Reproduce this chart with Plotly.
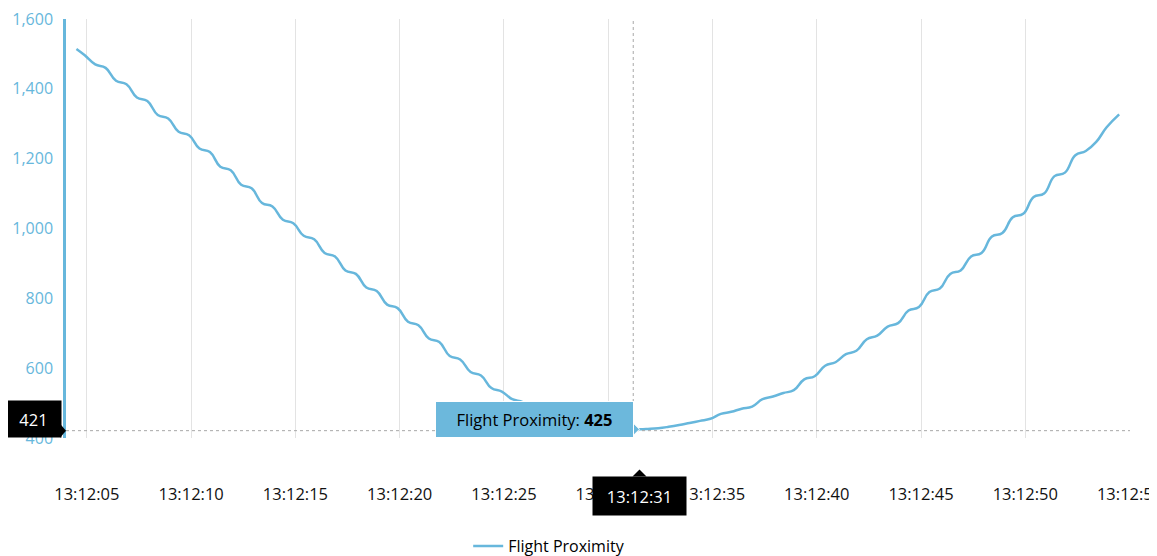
import plotly.graph_objects as go
import pandas as pd

# ---------------- data ----------------
base_time = "2024-01-01 13:12:00"
series_name = "Flight Proximity"

seconds = [4.5, 4.9, 5.4, 5.9, 6.4, 6.9, 7.4, 7.9, 8.4, 8.9, 9.4, 9.9,
           10.4, 10.9, 11.4, 11.9, 12.4, 12.9, 13.4, 13.9, 14.4, 14.9,
           15.4, 15.9, 16.4, 16.9, 17.4, 17.9, 18.4, 18.9, 19.4, 19.9,
           20.4, 20.9, 21.4, 21.9, 22.4, 22.9, 23.4, 23.9, 24.4, 24.9,
           25.4, 25.9, 26.4, 26.9, 27.4, 27.9, 28.4, 28.9, 29.4, 29.9,
           30.4, 30.9, 31.5, 31.9, 32.4, 32.9, 33.4, 33.9, 34.4, 34.9,
           35.4, 35.9, 36.4, 36.9, 37.4, 37.9, 38.4, 38.9, 39.4, 39.9,
           40.4, 40.9, 41.4, 41.9, 42.4, 42.9, 43.4, 43.9, 44.4, 44.9,
           45.4, 45.9, 46.4, 46.9, 47.4, 47.9, 48.4, 48.9, 49.4, 49.9,
           50.4, 50.9, 51.4, 51.9, 52.4, 52.9, 53.4, 53.9, 54.5]

proximity = [1514, 1496, 1470, 1460, 1423, 1413, 1375, 1365, 1325, 1315, 1277, 1267,
             1229, 1219, 1177, 1167, 1125, 1115, 1073, 1063, 1025, 1015,
             979, 969, 930, 920, 880, 870, 831, 821, 782, 772,
             733, 723, 685, 675, 635, 625, 589, 579, 543, 533,
             511, 503, 486, 480, 465, 459, 447, 443, 435, 431,
             427, 425, 425, 426, 428, 432, 437, 443, 449, 455,
             469, 475, 484, 490, 511, 519, 529, 537, 568, 577,
             607, 617, 640, 650, 683, 693, 719, 729, 765, 775,
             818, 828, 870, 880, 920, 930, 977, 987, 1032, 1042,
             1090, 1100, 1150, 1160, 1210, 1222, 1248, 1290, 1327]

x_range_seconds = [4.0, 55.02]
x_tick_start_seconds = 5
x_tick_step_seconds = 5
y_range = [400, 1600]
y_tick_step = 200

cursor_seconds = 31.2      # mouse position of the chart cursor
cursor_value = 421         # value shown on the y-axis cursor label
hover_seconds = 31.5       # data point under the cursor

# ---------------- styles ----------------
LINE_COLOR = "#67b7dc"
TOOLTIP_COLOR = "#6cb8dc"
GRID_COLOR = "#e3e3e3"
FONT = "Segoe UI, Open Sans, sans-serif"

t0 = pd.Timestamp(base_time)
def ts(s):
    return t0 + pd.Timedelta(seconds=s)

times = [ts(s) for s in seconds]
hover_i = seconds.index(hover_seconds)
hover_time = times[hover_i]
hover_value = proximity[hover_i]
cursor_time = ts(cursor_seconds)

fig = go.Figure()
fig.add_trace(go.Scatter(
    x=times, y=proximity, mode="lines", name=series_name,
    line=dict(color=LINE_COLOR, width=2.5, shape="spline", smoothing=1.3),
    hoverinfo="skip",
))

shapes = []
# cursor dashed lines
shapes.append(dict(type="line", xref="x", yref="paper", x0=cursor_time, x1=cursor_time,
                   y0=0, y1=1, line=dict(color="#a8a8a8", width=1, dash="3px,3px"), layer="above"))
shapes.append(dict(type="line", xref="paper", yref="y", x0=0, x1=1, y0=cursor_value, y1=cursor_value,
                   line=dict(color="#a8a8a8", width=1, dash="3px,3px"), layer="above"))
# tooltip pointer
shapes.append(dict(type="path", xref="x", yref="y", xsizemode="pixel", ysizemode="pixel",
                   xanchor=hover_time, yanchor=hover_value,
                   path="M -7,7 L 0,0 L -7,-7 Z", fillcolor=TOOLTIP_COLOR,
                   line=dict(color="white", width=1), layer="above"))
# y cursor label pointer
shapes.append(dict(type="path", xref="paper", yref="y", xsizemode="pixel", ysizemode="pixel",
                   xanchor=0, yanchor=cursor_value,
                   path="M -6,7 L 0,0 L -6,-7 Z", fillcolor="black",
                   line=dict(color="black", width=0), layer="above"))
# x cursor label pointer
shapes.append(dict(type="path", xref="x", yref="paper", xsizemode="pixel", ysizemode="pixel",
                   xanchor=hover_time, yanchor=0,
                   path="M -7,-38.5 L 0,-31.5 L 7,-38.5 Z", fillcolor="black",
                   line=dict(color="black", width=0), layer="above"))

annotations = []
# tooltip box
annotations.append(dict(
    x=hover_time, y=hover_value, xref="x", yref="y",
    xanchor="right", yanchor="bottom", xshift=-6, yshift=-9,
    text=f"{series_name}: <b>{hover_value}</b>", showarrow=False,
    bgcolor=TOOLTIP_COLOR, bordercolor="white", borderwidth=1, borderpad=0,
    width=197, height=35, align="center",
    font=dict(family=FONT, size=16.5, color="#000000"),
))
# y cursor label
annotations.append(dict(
    x=0, y=cursor_value, xref="paper", yref="y",
    xanchor="right", yanchor="bottom", xshift=-4, yshift=-7,
    text=f"{cursor_value}", showarrow=False,
    bgcolor="black", borderpad=0, width=55, height=36,
    font=dict(family=FONT, size=16.5, color="white"),
))
# x cursor label
annotations.append(dict(
    x=hover_time, y=0, xref="x", yref="paper",
    xanchor="center", yanchor="top", yshift=-38,
    text=hover_time.strftime("%H:%M:%S"), showarrow=False,
    bgcolor="black", borderpad=0, width=93, height=38,
    font=dict(family=FONT, size=16.5, color="white"),
))

# page body has an 8px margin, so the figure is laid out 8px in from the window edge
fig.update_layout(
    width=1149, height=548,
    margin=dict(l=58, r=27, t=11, b=118, autoexpand=False),
    plot_bgcolor="white", paper_bgcolor="white",
    font=dict(family=FONT),
    hovermode=False,
    showlegend=True,
    legend=dict(orientation="h", x=0.378, xanchor="left", y=-0.258, yanchor="middle",
                font=dict(family=FONT, size=16, color="#000000"),
                bgcolor="rgba(0,0,0,0)"),
    shapes=shapes,
    annotations=annotations,
    xaxis=dict(
        type="date", automargin=False, ticklabeloverflow="allow",
        range=[ts(x_range_seconds[0]), ts(x_range_seconds[1])],
        tick0=ts(x_tick_start_seconds), dtick=x_tick_step_seconds * 1000,
        tickformat="%H:%M:%S",
        showgrid=True, gridcolor=GRID_COLOR, gridwidth=1,
        showline=False, zeroline=False, ticks="",
        ticklabelstandoff=44,
        tickfont=dict(family=FONT, size=16.5, color="#111111"),
    ),
    yaxis=dict(
        automargin=False, ticklabeloverflow="allow",
        range=y_range, dtick=y_tick_step, tick0=y_range[0],
        tickformat=",",
        showgrid=False, zeroline=False,
        showline=True, linecolor=LINE_COLOR, linewidth=2.5,
        ticks="", ticklabelstandoff=7,
        tickfont=dict(family=FONT, size=16, color=LINE_COLOR),
    ),
)

fig.write_html("out.html")
